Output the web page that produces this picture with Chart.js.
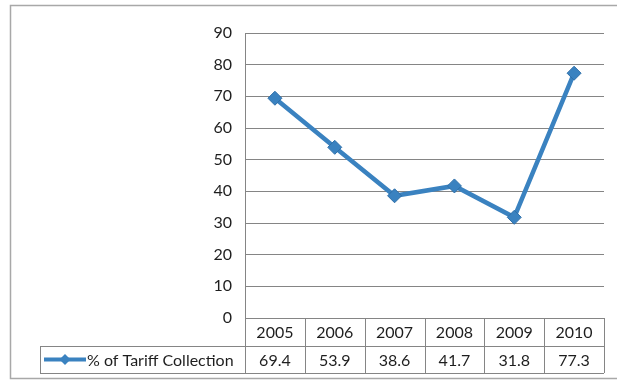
<!DOCTYPE html>
<html>
<head>
<meta charset="utf-8">
<script src="https://cdn.jsdelivr.net/npm/chart.js@4/dist/chart.umd.min.js"></script>
<style>
  html, body { margin: 0; padding: 0; background: #ffffff; }
  #wrap { width: 617px; height: 382px; position: relative; }
</style>
</head>
<body>
<div id="wrap"><canvas id="c" width="617" height="382"></canvas></div>
<script>
// Tariff collection rate by year
const years = ['2005', '2006', '2007', '2008', '2009', '2010'];
const tariffCollection = [69.4, 53.9, 38.6, 41.7, 31.8, 77.3];
const seriesName = '% of Tariff Collection';
const yTicks = [0, 10, 20, 30, 40, 50, 60, 70, 80, 90];

const LINE_BLUE = '#3a82c0';
const GRID = '#858585';
const TEXT = '#1e1e1e';
const FONT = 'Lato, "Open Sans", sans-serif';

// Data table under the plot: header row of years, then the series row with its legend key
const dataTablePlugin = {
  id: 'dataTable',
  afterDraw(chart) {
    const ctx = chart.ctx;
    const area = chart.chartArea;
    const xs = chart.scales.x;
    const left = area.left, right = area.right;
    const colW = (right - left) / years.length;
    const rowTop = area.bottom;
    const rowMid = rowTop + 28;
    const rowBot = rowMid + 27;
    const keyLeft = 40;

    ctx.save();
    // outer frame of the chart object
    ctx.strokeStyle = '#a8a8a8';
    ctx.lineWidth = 1.5;
    ctx.beginPath();
    ctx.moveTo(617, 5.5);
    ctx.lineTo(10.5, 5.5);
    ctx.lineTo(10.5, 378.5);
    ctx.lineTo(617, 378.5);
    ctx.stroke();

    ctx.strokeStyle = GRID;
    ctx.lineWidth = 1;
    ctx.beginPath();
    // horizontal rules
    ctx.moveTo(left, rowTop + 0.5); ctx.lineTo(right, rowTop + 0.5);
    ctx.moveTo(keyLeft, rowMid + 0.5); ctx.lineTo(right, rowMid + 0.5);
    ctx.moveTo(keyLeft, rowBot + 0.5); ctx.lineTo(right, rowBot + 0.5);
    // column dividers
    for (let i = 0; i <= years.length; i++) {
      const x = Math.round(left + i * colW) + 0.5;
      ctx.moveTo(x, rowTop); ctx.lineTo(x, rowBot);
    }
    ctx.moveTo(keyLeft + 0.5, rowMid); ctx.lineTo(keyLeft + 0.5, rowBot);
    ctx.stroke();

    ctx.fillStyle = TEXT;
    ctx.font = '16px ' + FONT;
    ctx.textAlign = 'center';
    ctx.textBaseline = 'middle';
    years.forEach((y, i) => {
      const cx = xs.getPixelForValue(i);
      ctx.fillText(y, cx, (rowTop + rowMid) / 2 + 1);
      ctx.fillText(tariffCollection[i].toFixed(1), cx, (rowMid + rowBot) / 2 + 1);
    });

    // legend key: line with diamond marker
    const ky = (rowMid + rowBot) / 2;
    ctx.strokeStyle = LINE_BLUE;
    ctx.lineWidth = 4;
    ctx.beginPath();
    ctx.moveTo(44, ky); ctx.lineTo(86, ky);
    ctx.stroke();
    ctx.fillStyle = LINE_BLUE;
    ctx.beginPath();
    ctx.moveTo(65, ky - 5.5); ctx.lineTo(70.5, ky); ctx.lineTo(65, ky + 5.5); ctx.lineTo(59.5, ky);
    ctx.closePath();
    ctx.fill();

    ctx.fillStyle = TEXT;
    ctx.textAlign = 'left';
    ctx.font = '16px ' + FONT;
    ctx.fillText(seriesName, 87, ky + 1);
    ctx.restore();
  }
};

new Chart(document.getElementById('c'), {
  type: 'line',
  data: {
    labels: years,
    datasets: [{
      label: seriesName,
      data: tariffCollection,
      borderColor: LINE_BLUE,
      backgroundColor: LINE_BLUE,
      borderWidth: 4.5,
      pointStyle: 'rectRot',
      pointRadius: 7,
      pointBorderWidth: 1,
      pointBorderColor: '#2f6fa8',
      tension: 0
    }]
  },
  options: {
    responsive: false,
    animation: false,
    devicePixelRatio: 1,
    layout: { padding: { left: 0, right: 13, top: 33, bottom: 64 } },
    plugins: {
      legend: { display: false },
      tooltip: { enabled: false },
      title: { display: false }
    },
    scales: {
      x: {
        offset: true,
        ticks: { display: false },
        grid: { display: false },
        border: { display: false },
        afterFit(scale) { scale.height = 0; }
      },
      y: {
        min: 0,
        max: 90,
        afterBuildTicks(scale) { scale.ticks = yTicks.map(v => ({ value: v })); },
        ticks: {
          color: TEXT,
          font: { family: FONT, size: 16 },
          padding: 13
        },
        grid: { color: GRID, lineWidth: 1, drawTicks: false },
        border: { display: true, color: GRID, width: 1 },
        afterFit(scale) { scale.width = 245; }
      }
    }
  },
  plugins: [dataTablePlugin]
});
</script>
</body>
</html>
